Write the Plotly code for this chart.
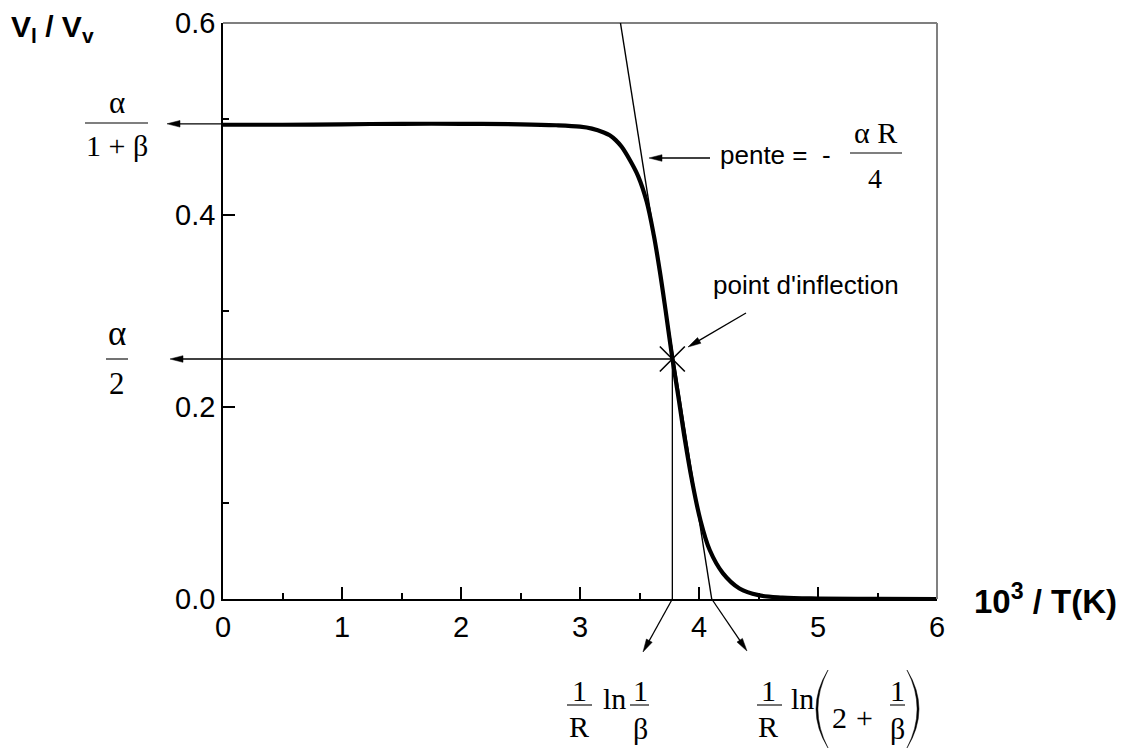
import math

import plotly.graph_objects as go

# V_l / V_v en fonction de 10^3 / T
inv_temp = [0.0, 0.5, 1.0, 1.5, 2.0, 2.5, 2.8, 3.0, 3.1, 3.2, 3.25, 3.3, 3.35, 3.42,
            3.49, 3.56, 3.62, 3.67, 3.72, 3.776, 3.83, 3.88, 3.94, 4.01, 4.09, 4.2,
            4.34, 4.5, 4.7, 5.0, 5.5, 6.0]
ratio = [0.494, 0.494, 0.4945, 0.495, 0.495, 0.4945, 0.4935, 0.492, 0.490, 0.486,
         0.483, 0.478, 0.471, 0.457, 0.440, 0.414, 0.379, 0.342, 0.300, 0.2507,
         0.208, 0.167, 0.124, 0.083, 0.051, 0.027, 0.011, 0.004, 0.0015, 0.0005,
         0.0001, 0.0]

# tangente au point d'inflexion
tangent_x = [3.34, 4.107]
tangent_y = [0.6, 0.0]

x_infl = [3.776]
y_infl = [0.25]
plateau = 0.495

x_ticks = [0, 1, 2, 3, 4, 5, 6]
y_ticks = [0.0, 0.2, 0.4, 0.6]
y_tick_text = ["0.0", "0.2", "0.4", "0.6"]

SANS = "Liberation Sans, Arial, sans-serif"
SERIF = "Liberation Serif, Times New Roman, serif"

W, H = 1129, 751
PAGE = 8  # marge de la page autour du graphique
L, T, PW, PH = 223 - PAGE, 23 - PAGE, 714, 576
X_RANGE = (0, 6)
Y_RANGE = (0, 0.6)


def xpix(x):
    # position écran (px) d'une valeur x
    return PAGE + L + (x - X_RANGE[0]) / (X_RANGE[1] - X_RANGE[0]) * PW


def ypix(y):
    return PAGE + T + (1 - (y - Y_RANGE[0]) / (Y_RANGE[1] - Y_RANGE[0])) * PH


def paper(px, py):
    return (px - PAGE - L) / PW, 1 - (py - PAGE - T) / PH


shapes = []
annotations = []


def seg(x0, y0, x1, y1, width=1.3, color="black"):
    a, b = paper(x0, y0)
    c, d = paper(x1, y1)
    shapes.append(dict(type="line", xref="paper", yref="paper", x0=a, y0=b, x1=c, y1=d,
                       line=dict(color=color, width=width)))


def poly(points, fill="black"):
    pts = [paper(px, py) for px, py in points]
    path = "M " + " L ".join(f"{a:.5f},{b:.5f}" for a, b in pts) + " Z"
    shapes.append(dict(type="path", xref="paper", yref="paper", path=path,
                       fillcolor=fill, line=dict(color=fill, width=0.5)))


def arrow(x0, y0, x1, y1, head=13, half=3.3, width=1.3):
    # flèche de (x0, y0) vers la pointe (x1, y1), en pixels écran
    dx, dy = x1 - x0, y1 - y0
    n = math.hypot(dx, dy)
    ux, uy = dx / n, dy / n
    bx, by = x1 - ux * head, y1 - uy * head
    seg(x0, y0, x1 - ux * head * 0.7, y1 - uy * head * 0.7, width)
    poly([(x1, y1), (bx - uy * half, by + ux * half), (bx + uy * half, by - ux * half)])


def label(px, py, s, size, family=SERIF, anchor="center"):
    a, b = paper(px, py)
    annotations.append(dict(xref="paper", yref="paper", x=a, y=b, text=s, showarrow=False,
                            xanchor=anchor, yanchor="middle",
                            font=dict(family=family, size=size, color="black")))


def paren(x_end, y_top, y_bot, bulge, thick):
    ym = (y_top + y_bot) / 2
    outer = x_end + 2 * bulge
    inner = x_end + 2 * (bulge - math.copysign(thick, bulge))
    a, b = paper(x_end, y_top)
    c, d = paper(outer, ym)
    e, f = paper(x_end, y_bot)
    g, h = paper(inner, ym)
    path = f"M {a:.5f},{b:.5f} Q {c:.5f},{d:.5f} {e:.5f},{f:.5f} Q {g:.5f},{h:.5f} {a:.5f},{b:.5f} Z"
    shapes.append(dict(type="path", xref="paper", yref="paper", path=path,
                       fillcolor="black", line=dict(color="black", width=0.5)))


fig = go.Figure()

fig.add_trace(go.Scatter(x=tangent_x, y=tangent_y, mode="lines",
                         line=dict(color="black", width=1.4), hoverinfo="skip"))
fig.add_trace(go.Scatter(x=inv_temp, y=ratio, mode="lines",
                         line=dict(color="black", width=4.2, shape="spline", smoothing=1)))
fig.add_trace(go.Scatter(x=x_infl, y=y_infl, mode="markers", cliponaxis=False,
                         marker=dict(symbol="x-thin", size=25, line=dict(color="black", width=1.6))))

# cadre haut / droit
seg(xpix(0), ypix(0.6), xpix(6), ypix(0.6), width=1.2)
seg(xpix(6), ypix(0.6), xpix(6), ypix(0), width=2, color="#808080")

# lignes de construction et flèches
seg(xpix(x_infl[0]), ypix(y_infl[0]), xpix(x_infl[0]), ypix(0), width=1.3)
arrow(xpix(0), ypix(plateau), 167, ypix(plateau))
arrow(xpix(x_infl[0]), ypix(y_infl[0]), 170, ypix(y_infl[0]))
arrow(710, 158, 649, 158)
arrow(746, 313, 688, 347)
arrow(xpix(x_infl[0]), ypix(0), 643, 652)
arrow(xpix(tangent_x[1]), ypix(0), 747, 651)

# alpha / (1 + beta)
label(117, 103, "α", 31)
seg(85, 123, 148, 123, width=1.1)
label(117, 146, "1 + β", 30)

# alpha / 2
label(117, 333, "α", 35)
seg(106, 359, 128, 359, width=1.1)
label(117, 383, "2", 31)

# pente
label(718, 155, "pente = \u00a0-", 26, family=SANS, anchor="left")
label(875, 132, "α R", 30)
seg(850, 153, 902, 153, width=1.1)
label(875, 178, "4", 28)

label(806, 285, "point d'inflection", 26, family=SANS)

# 1/R ln 1/beta
label(579, 690, "1", 30)
seg(567, 705, 592, 705, width=1.1)
label(579, 726, "R", 30)
label(614, 698, "ln", 30)
label(640, 690, "1", 30)
seg(630, 705, 649, 705, width=1.1)
label(640, 728, "β", 30)

# 1/R ln(2 + 1/beta)
label(768, 690, "1", 30)
seg(757, 705, 782, 705, width=1.1)
label(768, 726, "R", 30)
label(802, 698, "ln", 30)
paren(828, 670, 748, -12, 1.9)
label(839, 717, "2", 30)
label(864, 717, "+", 30)
label(897, 690, "1", 30)
seg(890, 705, 905, 705, width=1.1)
label(897, 728, "β", 30)
paren(907, 670, 748, 12, 1.9)

# titres des axes
label(9, 29, "<b>V<sub>l</sub> / V<sub>v</sub></b>", 30, family=SANS, anchor="left")
label(972, 599, "<b>10<sup>3</sup> / T(K)</b>", 33, family=SANS, anchor="left")

fig.update_layout(
    width=W, height=H,
    margin=dict(l=L, r=W - L - PW, t=T, b=H - T - PH, autoexpand=False),
    paper_bgcolor="white", plot_bgcolor="white",
    showlegend=False,
    shapes=shapes,
    annotations=annotations,
    xaxis=dict(range=list(X_RANGE), tickvals=x_ticks, showgrid=False, zeroline=False,
               automargin=False, ticklabeloverflow="allow",
               showline=True, linecolor="black", linewidth=1.6,
               ticks="inside", ticklen=12, tickwidth=1.5, tickcolor="black",
               ticklabelstandoff=1,
               minor=dict(ticks="inside", ticklen=6, tickwidth=1.5, tickcolor="black",
                          dtick=0.5, tick0=0),
               tickfont=dict(family=SANS, size=29, color="black")),
    yaxis=dict(range=list(Y_RANGE), tickvals=y_ticks, ticktext=y_tick_text,
               showgrid=False, zeroline=False, automargin=False,
               ticklabeloverflow="allow",
               showline=True, linecolor="black", linewidth=1.6,
               ticks="inside", ticklen=12, tickwidth=1.5, tickcolor="black",
               ticklabelstandoff=0,
               minor=dict(ticks="inside", ticklen=6, tickwidth=1.5, tickcolor="black",
                          dtick=0.1, tick0=0),
               tickfont=dict(family=SANS, size=29, color="black")),
)

fig.write_html("out.html")
